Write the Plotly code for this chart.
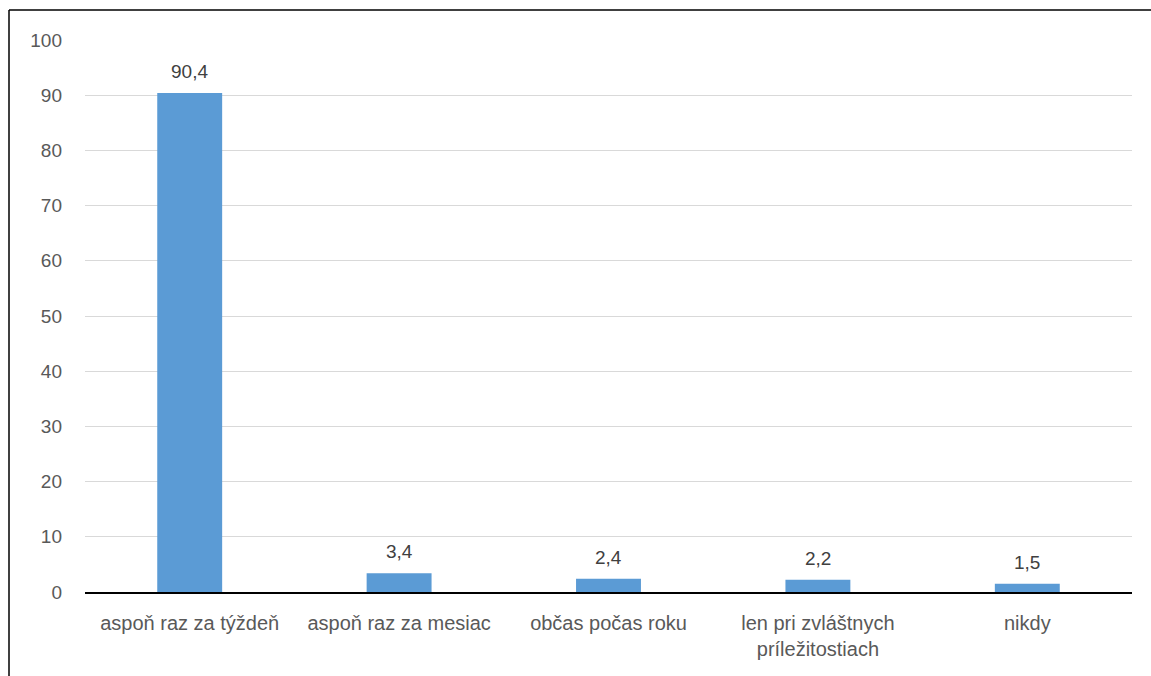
import plotly.graph_objects as go

categories = ["aspoň raz za týždeň", "aspoň raz za mesiac", "občas počas roku",
              "len pri zvláštnych<br>príležitostiach", "nikdy"]
values = [90.4, 3.4, 2.4, 2.2, 1.5]
labels = ["90,4", "3,4", "2,4", "2,2", "1,5"]
y_ticks = [0, 10, 20, 30, 40, 50, 60, 70, 80, 90, 100]

FONT = "Liberation Sans"
FS = 20

fig = go.Figure(go.Bar(
    x=categories, y=values,
    marker=dict(color="#5B9BD5", line=dict(width=0)),
    width=0.31, hoverinfo="skip",
))

annotations = [dict(x=c, y=v, text=t, showarrow=False, xref="x", yref="y",
                    yanchor="bottom", yshift=9,
                    font=dict(family=FONT, size=FS - 1, color="#404040"))
               for c, v, t in zip(categories, values, labels)]

x_left = (9 - 85) / 1047
y_top = 1 + (40 - 10) / 552

fig.update_layout(
    width=1151, height=676,
    margin=dict(l=85, r=19, t=40, b=84),
    paper_bgcolor="white", plot_bgcolor="white",
    showlegend=False,
    font=dict(family=FONT, size=FS, color="#595959"),
    xaxis=dict(showgrid=False, showline=True, linecolor="black", linewidth=1.5,
               ticks="", ticklabelstandoff=12,
               tickfont=dict(family=FONT, size=FS, color="#595959")),
    yaxis=dict(range=[0, 100], tickvals=y_ticks, showgrid=True, gridcolor="#D9D9D9",
               gridwidth=1, zeroline=False, showline=False, ticks="",
               ticklabelstandoff=22,
               tickfont=dict(family=FONT, size=FS - 1, color="#595959")),
    annotations=annotations,
    shapes=[
        dict(type="line", xref="paper", yref="paper", x0=x_left, x1=1.02,
             y0=y_top, y1=y_top, line=dict(color="black", width=1.5)),
        dict(type="line", xref="paper", yref="paper", x0=x_left, x1=x_left,
             y0=-0.2, y1=y_top, line=dict(color="black", width=1.5)),
    ],
)

fig.write_html("out.html", config={"displayModeBar": False},
               post_script="document.body.style.margin='0';document.body.style.overflow='hidden';")
